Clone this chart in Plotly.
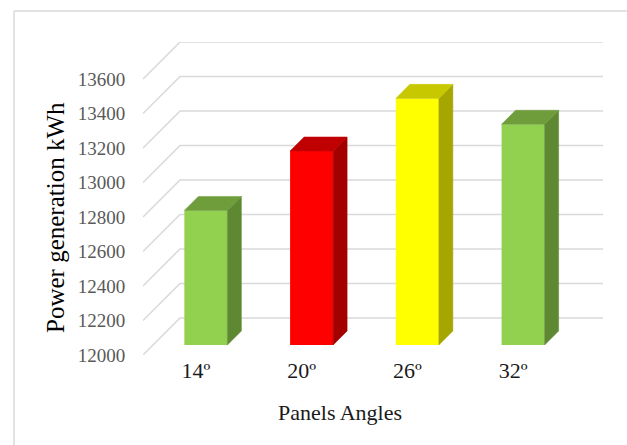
import plotly.graph_objects as go

# ---- data ----
categories = ["14º", "20º", "26º", "32º"]
power_kwh = [12780, 13125, 13430, 13280]
y_ticks = [12000, 12200, 12400, 12600, 12800, 13000, 13200, 13400, 13600]
y_tick_labels = [str(v) for v in y_ticks]

# ---- style ----
front_colors = ["#92D050", "#FF0000", "#FFFF00", "#92D050"]
top_colors = ["#6F9D3C", "#C00000", "#C8C800", "#6F9D3C"]
side_colors = ["#5E8932", "#A30000", "#A6A600", "#5E8932"]
FONT = "Liberation Serif, Times New Roman, serif"

# oblique projection: depth d in [0,1] shifts right (KX categories) and up (KY kWh)
KX = 0.35
KY = 215.0
D0, D1 = 0.27, 0.648      # bar front / back depth
BW = 0.407                 # bar width (category units)
BASE = y_ticks[0]


def P(c, v, d):
    return c + d * KX, v + d * KY


fig = go.Figure()

# front faces as real bars
xs = [P(i, v, D0)[0] for i, v in enumerate(power_kwh)]
fig.add_trace(go.Bar(
    x=xs, y=[v - BASE for v in power_kwh], base=BASE + D0 * KY,
    width=BW, marker=dict(color=front_colors, line=dict(width=0)),
    hoverinfo="skip", showlegend=False))

# side + top faces
for i, v in enumerate(power_kwh):
    r = i + BW / 2
    l = i - BW / 2
    pts = [P(r, v, D0), P(r, v, D1), P(r, BASE, D1), P(r, BASE, D0), P(r, v, D0)]
    fig.add_trace(go.Scatter(
        x=[p[0] for p in pts], y=[p[1] for p in pts], mode="lines",
        fill="toself", fillcolor=side_colors[i],
        line=dict(color=side_colors[i], width=0.5),
        hoverinfo="skip", showlegend=False))
    pts = [P(l, v, D0), P(r, v, D0), P(r, v, D1), P(l, v, D1), P(l, v, D0)]
    fig.add_trace(go.Scatter(
        x=[p[0] for p in pts], y=[p[1] for p in pts], mode="lines",
        fill="toself", fillcolor=top_colors[i],
        line=dict(color=top_colors[i], width=0.5),
        hoverinfo="skip", showlegend=False))

# gridlines: left-wall diagonal + back-wall horizontal
shapes = []
left, right = -0.5, len(categories) - 0.5
for v in y_ticks:
    x0, y0 = P(left, v, 0)
    x1, y1 = P(left, v, 1)
    x2, y2 = P(right, v, 1)
    shapes.append(dict(type="path", xref="x", yref="y", layer="below",
                       path=f"M {x0},{y0} L {x1},{y1} L {x2},{y2}",
                       line=dict(color="#D9D9D9", width=1.5)))

# chart border (left and top visible)
shapes.append(dict(type="line", xref="paper", yref="paper",
                   x0=-0.2804, x1=-0.2804, y0=1.099, y1=-0.5,
                   line=dict(color="#D9D9D9", width=1.5)))
shapes.append(dict(type="line", xref="paper", yref="paper",
                   x0=-0.2804, x1=1.1, y0=1.099, y1=1.099,
                   line=dict(color="#D9D9D9", width=1.5)))

fig.update_layout(
    width=627, height=445, autosize=False,
    margin=dict(l=143, r=24, t=42, b=90),
    paper_bgcolor="white", plot_bgcolor="white",
    font=dict(family=FONT),
    shapes=shapes,
    xaxis=dict(range=[left, right + KX], tickvals=list(range(len(categories))),
               ticktext=categories, showgrid=False, zeroline=False, showline=False,
               ticks="", ticklabelstandoff=0,
               tickfont=dict(family=FONT, size=22, color="#1A1A1A"), fixedrange=True),
    yaxis=dict(range=[BASE, y_ticks[-1] + KY], tickvals=y_ticks, ticktext=y_tick_labels,
               showgrid=False, zeroline=False, showline=False,
               ticks="outside", ticklen=13, tickcolor="rgba(0,0,0,0)",
               tickfont=dict(family=FONT, size=19, color="#595959"), fixedrange=True),
    annotations=[
        dict(text="Panels Angles", xref="paper", yref="paper",
             x=(340 - 143) / 460, y=(355 - 412) / 313, xanchor="center", yanchor="middle",
             showarrow=False, font=dict(family=FONT, size=22, color="#1A1A1A")),
        dict(text="Power generation kWh", xref="paper", yref="paper",
             x=(55 - 143) / 460, y=(355 - 218) / 313, xanchor="center", yanchor="middle",
             textangle=-90, showarrow=False, font=dict(family=FONT, size=25, color="#000000")),
    ],
)

fig.write_html("out.html")
